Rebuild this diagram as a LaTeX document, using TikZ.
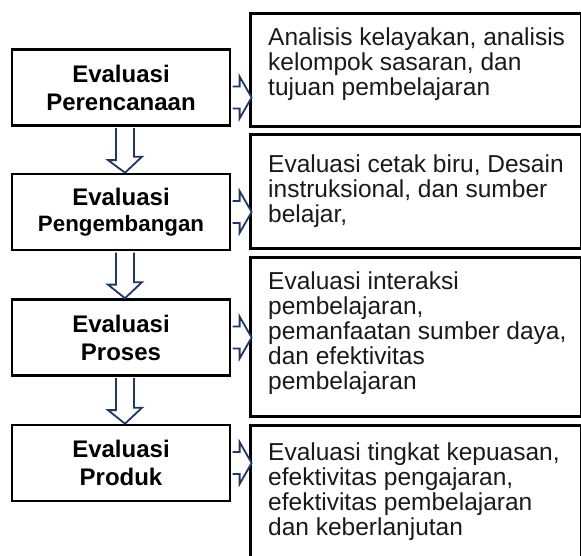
\documentclass[tikz,border=0pt]{standalone}
\usepackage{fontspec}
\setmainfont{Liberation Sans}
\usetikzlibrary{calc}
\definecolor{arrownavy}{HTML}{1F3864}
\definecolor{textgray}{HTML}{1A1A1A}
\begin{document}
\begin{tikzpicture}[x=1pt,y=-1pt,
  lbox/.style={draw=black, line width=2.6pt, minimum width=218pt, minimum height=76pt,
    inner sep=0pt, align=center, font=\bfseries\fontsize{24}{28}\selectfont},
  rbox/.style={draw=black, line width=2.6pt, inner sep=0pt, anchor=north west, minimum width=331pt},
  rtext/.style={anchor=north west, inner sep=0pt, align=left, text=textgray,
    font=\fontsize{24.5}{25}\selectfont},
  blockarrow/.style={draw=arrownavy, line width=1.8pt, fill=white, line join=miter}]
\useasboundingbox (0,0) rectangle (581,555);
\fill[white] (0,0) rectangle (581,555);

% left boxes
\node[lbox] (p1) at (121,87.5) {Evaluasi\\Perencanaan};
\node[lbox] (p2) at (121,212) {Evaluasi\\[-2pt]{\fontsize{22.3}{26}\selectfont Pengembangan}};
\node[lbox] (p3) at (121,337.5) {Evaluasi\\Proses};
\node[lbox] (p4) at (121,463) {Evaluasi\\Produk};

% right boxes
\node[rbox, minimum height=113pt] (r1) at (249,12) {};
\node[rbox, minimum height=114pt] (r2) at (249,133) {};
\node[rbox, minimum height=159pt] (r3) at (249,256) {};
\node[rbox, minimum height=140pt] (r4) at (249,424) {};

% right texts
\node[rtext] (t1) at (268,27.5) {Analisis kelayakan, analisis\\kelompok sasaran, dan\\tujuan pembelajaran};
\node[rtext] (t2) at (268,154.5) {Evaluasi cetak biru, Desain\\instruksional, dan sumber\\belajar,};
\node[rtext] (t3) at (268,271.5) {Evaluasi interaksi\\pembelajaran,\\pemanfaatan sumber daya,\\dan efektivitas\\pembelajaran};
\node[rtext] (t4) at (268,442.5) {Evaluasi tingkat kepuasan,\\efektivitas pengajaran,\\efektivitas pembelajaran\\dan keberlanjutan};

% down block arrows
\foreach \a/\b in {p1/p2,p2/p3,p3/p4}{
  \draw[blockarrow] ($(\a.south)+(4,1.3)$) ++(-9,0) -- ++(0,32) -- ++(-8,0)
    -- ($(\b.north)+(4,0)$) -- ($(\b.north)+(21,-16)$) -- ++(-8,0) -- ($(\a.south)+(13,1.3)$);
}

% right block arrows
\foreach \a/\r/\dy in {p1/r1/10,p2/r2/0,p3/r3/0,p4/r4/0}{
  \draw[blockarrow] ($(\a.east)+(1.3,\dy)$) ++(0,-11) -- ++(7,0) -- ++(0,-10)
    -- ++(12,21) -- ++(-12,21) -- ++(0,-10) -- ++(-7,0);
}
\end{tikzpicture}
\end{document}
